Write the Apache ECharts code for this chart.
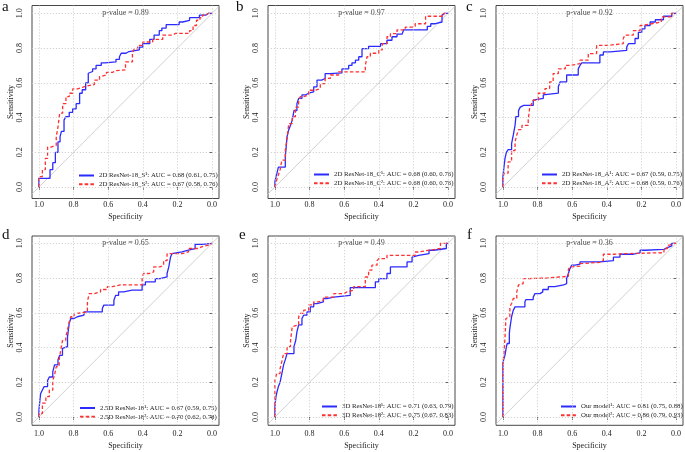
<!DOCTYPE html>
<html><head><meta charset="utf-8">
<script src="https://cdn.jsdelivr.net/npm/echarts@6/dist/echarts.min.js"></script>
<style>html,body{margin:0;padding:0;background:#fff}#c{width:685px;height:452px}</style>
</head><body><div id="c"></div>
<script>
// ---------- data ----------
const panelLetters = ['a', 'b', 'c', 'd', 'e', 'f'];
const pValues = ['0.89', '0.97', '0.92', '0.65', '0.49', '0.36'];
const tickValues = [0, 0.2, 0.4, 0.6, 0.8, 1.0];
const legendNames1 = [
  '2D ResNet-18_S¹: AUC = 0.68 (0.61, 0.75)',
  '2D ResNet-18_C¹: AUC = 0.68 (0.60, 0.76)',
  '2D ResNet-18_A¹: AUC = 0.67 (0.59, 0.75)',
  '2.5D ResNet-18¹: AUC = 0.67 (0.59, 0.75)',
  '3D ResNet-18¹: AUC = 0.71 (0.63, 0.79)',
  'Our model¹: AUC = 0.81 (0.75, 0.88)'
];
const legendNames2 = [
  '2D ResNet-18_S²: AUC = 0.67 (0.58, 0.76)',
  '2D ResNet-18_C²: AUC = 0.68 (0.60, 0.76)',
  '2D ResNet-18_A²: AUC = 0.68 (0.59, 0.76)',
  '2.5D ResNet-18²: AUC = 0.70 (0.62, 0.78)',
  '3D ResNet-18²: AUC = 0.75 (0.67, 0.83)',
  'Our model²: AUC = 0.86 (0.79, 0.93)'
];
// [specificity, sensitivity]
const rocA1 = [[1,0],[1,0.05],[0.936,0.05],[0.92,0.10],[0.905,0.14],[0.89,0.2],[0.878,0.26],[0.87,0.29],[0.855,0.32],[0.845,0.385],[0.825,0.405],[0.805,0.43],[0.785,0.45],[0.765,0.48],[0.75,0.54],[0.73,0.56],[0.715,0.60],[0.71,0.655],[0.69,0.665],[0.67,0.68],[0.64,0.70],[0.62,0.715],[0.555,0.72],[0.535,0.735],[0.525,0.75],[0.497,0.77],[0.48,0.78],[0.42,0.79],[0.40,0.805],[0.36,0.825],[0.335,0.85],[0.305,0.875],[0.29,0.90],[0.265,0.915],[0.245,0.935],[0.19,0.935],[0.17,0.95],[0.13,0.96],[0.073,0.975],[0.035,0.99],[0.02,1.0],[0,1]];
const rocA2 = [[1,0],[1,0.04],[0.98,0.06],[0.963,0.10],[0.95,0.165],[0.93,0.23],[0.90,0.24],[0.89,0.29],[0.88,0.345],[0.863,0.425],[0.844,0.48],[0.825,0.52],[0.805,0.54],[0.776,0.565],[0.745,0.575],[0.73,0.58],[0.68,0.59],[0.65,0.615],[0.64,0.635],[0.61,0.645],[0.575,0.66],[0.555,0.67],[0.50,0.675],[0.46,0.72],[0.45,0.77],[0.43,0.795],[0.40,0.815],[0.343,0.835],[0.285,0.85],[0.227,0.875],[0.21,0.885],[0.13,0.885],[0.11,0.90],[0.09,0.93],[0.07,0.96],[0.055,0.975],[0.035,0.99],[0.02,1],[0,1]];
const rocB1 = [[1,0],[0.994,0.03],[0.988,0.06],[0.98,0.08],[0.97,0.115],[0.94,0.115],[0.935,0.175],[0.93,0.23],[0.92,0.29],[0.91,0.33],[0.90,0.355],[0.89,0.385],[0.873,0.44],[0.863,0.48],[0.844,0.51],[0.825,0.53],[0.805,0.54],[0.776,0.548],[0.757,0.577],[0.73,0.615],[0.71,0.625],[0.68,0.653],[0.613,0.657],[0.574,0.68],[0.555,0.70],[0.535,0.715],[0.516,0.73],[0.497,0.75],[0.459,0.797],[0.459,0.81],[0.39,0.81],[0.353,0.825],[0.324,0.845],[0.295,0.865],[0.266,0.88],[0.256,0.89],[0.237,0.905],[0.12,0.905],[0.10,0.925],[0.073,0.94],[0.035,0.95],[0.025,0.99],[0.02,1],[0,1]];
const rocB2 = [[1,0],[0.99,0.01],[0.98,0.04],[0.97,0.07],[0.96,0.10],[0.94,0.155],[0.93,0.21],[0.92,0.28],[0.90,0.365],[0.882,0.405],[0.863,0.46],[0.854,0.49],[0.834,0.52],[0.805,0.53],[0.766,0.557],[0.738,0.567],[0.71,0.595],[0.68,0.625],[0.632,0.645],[0.584,0.663],[0.478,0.663],[0.468,0.70],[0.449,0.75],[0.40,0.77],[0.38,0.79],[0.353,0.825],[0.333,0.865],[0.295,0.883],[0.247,0.905],[0.208,0.92],[0.19,0.925],[0.13,0.94],[0.10,0.983],[0.025,0.983],[0.02,1],[0,1]];
const rocC1 = [[1,0],[0.994,0.06],[0.988,0.115],[0.98,0.165],[0.97,0.20],[0.95,0.215],[0.94,0.25],[0.93,0.30],[0.925,0.355],[0.91,0.405],[0.90,0.44],[0.89,0.46],[0.88,0.47],[0.825,0.47],[0.815,0.50],[0.767,0.51],[0.757,0.53],[0.68,0.54],[0.67,0.577],[0.632,0.605],[0.62,0.645],[0.565,0.645],[0.555,0.68],[0.545,0.70],[0.44,0.715],[0.42,0.76],[0.38,0.778],[0.285,0.787],[0.275,0.807],[0.237,0.825],[0.218,0.855],[0.198,0.89],[0.18,0.91],[0.15,0.93],[0.12,0.95],[0.073,0.963],[0.025,0.983],[0.02,1],[0,1]];
const rocC2 = [[1,0],[0.994,0.04],[0.97,0.08],[0.95,0.145],[0.93,0.21],[0.92,0.26],[0.91,0.30],[0.89,0.33],[0.854,0.355],[0.845,0.385],[0.834,0.46],[0.825,0.48],[0.796,0.50],[0.757,0.54],[0.73,0.567],[0.71,0.605],[0.68,0.653],[0.64,0.68],[0.613,0.70],[0.555,0.71],[0.507,0.73],[0.459,0.768],[0.40,0.815],[0.305,0.825],[0.295,0.855],[0.247,0.875],[0.208,0.90],[0.19,0.93],[0.14,0.94],[0.085,0.95],[0.025,0.98],[0.01,1],[0,1]];
const rocD1 = [[1,0],[0.994,0.04],[0.99,0.10],[0.98,0.135],[0.97,0.155],[0.95,0.175],[0.94,0.21],[0.92,0.23],[0.91,0.26],[0.89,0.30],[0.88,0.33],[0.864,0.355],[0.855,0.395],[0.835,0.405],[0.825,0.46],[0.816,0.54],[0.797,0.567],[0.778,0.577],[0.74,0.586],[0.71,0.605],[0.634,0.605],[0.625,0.625],[0.567,0.644],[0.557,0.672],[0.54,0.70],[0.51,0.72],[0.462,0.73],[0.404,0.73],[0.385,0.76],[0.366,0.778],[0.328,0.778],[0.30,0.797],[0.26,0.806],[0.25,0.826],[0.24,0.864],[0.232,0.92],[0.222,0.94],[0.174,0.95],[0.136,0.96],[0.098,0.97],[0.06,0.994],[0.05,1],[0,1]];
const rocD2 = [[1,0],[0.98,0.02],[0.96,0.08],[0.94,0.117],[0.92,0.155],[0.91,0.21],[0.90,0.24],[0.883,0.29],[0.874,0.33],[0.864,0.385],[0.845,0.44],[0.835,0.46],[0.825,0.50],[0.816,0.548],[0.797,0.577],[0.778,0.596],[0.72,0.605],[0.71,0.663],[0.682,0.71],[0.644,0.72],[0.605,0.734],[0.577,0.75],[0.53,0.76],[0.404,0.76],[0.395,0.806],[0.366,0.826],[0.337,0.835],[0.30,0.864],[0.28,0.874],[0.26,0.90],[0.232,0.94],[0.174,0.94],[0.136,0.95],[0.08,0.97],[0.06,0.98],[0.02,0.99],[0,1]];
const rocE1 = [[1,0],[0.994,0.06],[0.988,0.117],[0.98,0.145],[0.97,0.175],[0.96,0.20],[0.95,0.25],[0.94,0.30],[0.93,0.33],[0.92,0.365],[0.89,0.365],[0.88,0.405],[0.873,0.44],[0.863,0.49],[0.844,0.53],[0.834,0.567],[0.815,0.586],[0.796,0.605],[0.776,0.634],[0.757,0.653],[0.72,0.663],[0.70,0.682],[0.66,0.69],[0.565,0.70],[0.545,0.745],[0.42,0.745],[0.40,0.778],[0.353,0.797],[0.333,0.826],[0.324,0.864],[0.237,0.864],[0.208,0.893],[0.198,0.92],[0.17,0.93],[0.11,0.94],[0.083,0.96],[0.01,0.97],[0.005,1],[0,1]];
const rocE2 = [[1,0],[1,0.195],[0.99,0.21],[0.97,0.25],[0.96,0.28],[0.95,0.32],[0.93,0.365],[0.91,0.405],[0.90,0.44],[0.89,0.52],[0.863,0.53],[0.854,0.577],[0.834,0.596],[0.805,0.615],[0.776,0.645],[0.748,0.663],[0.72,0.672],[0.70,0.69],[0.66,0.69],[0.603,0.71],[0.584,0.72],[0.545,0.73],[0.478,0.75],[0.459,0.806],[0.44,0.845],[0.41,0.874],[0.40,0.90],[0.353,0.912],[0.295,0.93],[0.19,0.93],[0.17,0.95],[0.11,0.96],[0.044,0.97],[0.025,1],[0,1]];
const rocF1 = [[1,0],[1,0.175],[0.994,0.31],[0.988,0.337],[0.98,0.356],[0.975,0.405],[0.963,0.423],[0.96,0.48],[0.95,0.51],[0.94,0.577],[0.93,0.615],[0.925,0.634],[0.873,0.634],[0.867,0.663],[0.825,0.676],[0.815,0.69],[0.786,0.71],[0.77,0.72],[0.738,0.734],[0.70,0.75],[0.65,0.76],[0.632,0.768],[0.622,0.797],[0.613,0.826],[0.603,0.854],[0.584,0.874],[0.555,0.88],[0.44,0.893],[0.362,0.90],[0.324,0.92],[0.247,0.937],[0.208,0.945],[0.18,0.96],[0.07,0.965],[0.05,0.975],[0.025,0.985],[0.015,1],[0,1]];
const rocF2 = [[1,0],[1,0.155],[0.994,0.31],[0.988,0.366],[0.983,0.46],[0.98,0.567],[0.96,0.577],[0.95,0.634],[0.94,0.653],[0.92,0.682],[0.91,0.72],[0.90,0.76],[0.883,0.768],[0.873,0.797],[0.844,0.797],[0.748,0.80],[0.622,0.81],[0.613,0.85],[0.603,0.864],[0.555,0.868],[0.545,0.883],[0.44,0.89],[0.42,0.90],[0.362,0.937],[0.30,0.94],[0.07,0.946],[0.05,0.97],[0.035,0.99],[0.015,1],[0,1]];
const chanceLine = [[1.2, -0.2], [-0.2, 1.2]];
const curves1 = [rocA1, rocB1, rocC1, rocD1, rocE1, rocF1];
const curves2 = [rocA2, rocB2, rocC2, rocD2, rocE2, rocF2];

// ---------- layout ----------
const FONT = "'Liberation Serif', 'Times New Roman', serif";
const colLeft = [32, 268, 496];
const boxW = 187;
const rowTop = [5.5, 236];
const rowH = [193, 189.3];
const rowYMin = [-0.066, -0.048];
const rowYMax = [1.045, 1.042];
const rowLabelMargin = [2, 5];
const rowNameGap = [14, 17];
const legendLeft = [78, 313, 541, 79, 321, 560];
const legendTop = [172, 171, 171, 404.5, 403, 403];
const letterPos = [[2, 14.5], [236, 14.5], [466, 14.5], [2, 242.5], [239, 242.5], [467, 242.5]];

const grid = [], xAxis = [], yAxis = [], series = [], legend = [], graphic = [];
for (let i = 0; i < 6; i++) {
  const col = i % 3, row = Math.floor(i / 3);
  grid.push({ left: colLeft[col], top: rowTop[row], width: boxW, height: rowH[row],
    show: true, borderColor: '#333', borderWidth: 0.9, backgroundColor: 'transparent' });
  xAxis.push({ type: 'value', gridIndex: i, inverse: true, min: -0.04, max: 1.04,
    name: 'Specificity', nameLocation: 'middle', nameGap: rowNameGap[row],
    nameTextStyle: { fontFamily: FONT, fontSize: 8, color: '#222' },
    axisLine: { show: false },
    axisTick: { show: true, customValues: tickValues, length: 3, lineStyle: { color: '#333', width: 0.8 } },
    axisLabel: { customValues: tickValues, formatter: v => v.toFixed(1), margin: rowLabelMargin[row],
      fontFamily: FONT, fontSize: 8, color: '#222' },
    splitLine: { show: false } });
  yAxis.push({ type: 'value', gridIndex: i, min: rowYMin[row], max: rowYMax[row],
    name: 'Sensitivity', nameLocation: 'middle', nameGap: 17,
    nameTextStyle: { fontFamily: FONT, fontSize: 8, color: '#222' },
    axisLine: { show: false },
    axisTick: { show: true, customValues: tickValues, length: 3, lineStyle: { color: '#333', width: 0.8 } },
    axisLabel: { customValues: tickValues, formatter: v => v.toFixed(1), margin: 8, rotate: 90,
      fontFamily: FONT, fontSize: 8, color: '#222' },
    splitLine: { show: false } });
  const gl = tickValues.map(v => ({ xAxis: v })).concat(tickValues.map(v => ({ yAxis: v })));
  series.push({ type: 'line', xAxisIndex: i, yAxisIndex: i, data: chanceLine, symbol: 'none', silent: true,
    lineStyle: { color: '#c4c4c4', width: 0.8 }, z: 1,
    markLine: { silent: true, symbol: ['none', 'none'], label: { show: false }, animation: false,
      lineStyle: { type: [1.2, 1.8], color: '#c8c8c8', width: 0.8 }, data: gl } });
  series.push({ type: 'line', name: legendNames1[i], xAxisIndex: i, yAxisIndex: i, data: curves1[i],
    symbol: 'none', step: 'start', lineStyle: { color: '#2b2bff', width: 1.3 }, itemStyle: { color: '#2b2bff' }, z: 3 });
  series.push({ type: 'line', name: legendNames2[i], xAxisIndex: i, yAxisIndex: i, data: curves2[i],
    symbol: 'none', step: 'start', lineStyle: { color: '#ff3030', width: 1.3, type: [3.5, 2.2] }, itemStyle: { color: '#ff3030' }, z: 4 });
  series.push({ type: 'scatter', xAxisIndex: i, yAxisIndex: i, data: [[0.5, 1.0]], symbolSize: 0, silent: true,
    label: { show: true, position: 'inside', formatter: 'p-value = ' + pValues[i],
      fontFamily: FONT, fontSize: 8, color: '#222' }, z: 5 });
  legend.push({ data: [legendNames1[i], legendNames2[i]], orient: 'vertical', left: legendLeft[i], top: legendTop[i],
    padding: 0, itemWidth: 15, itemHeight: 8, itemGap: 1.8, selectedMode: false,
    itemStyle: { color: 'rgba(0,0,0,0)', borderColor: 'rgba(0,0,0,0)', borderWidth: 0, opacity: 0 },
    textStyle: { fontFamily: FONT, fontSize: 6.8, color: '#222' } });
  graphic.push({ type: 'text', x: letterPos[i][0], y: letterPos[i][1], silent: true,
    style: { text: panelLetters[i], font: '15px ' + FONT, fill: '#111', align: 'left', verticalAlign: 'bottom' } });
}

const chart = echarts.init(document.getElementById('c'), null, { renderer: 'canvas' });
chart.setOption({ animation: false, backgroundColor: '#fff', grid, xAxis, yAxis, series, legend, graphic });
</script>
</body></html>
